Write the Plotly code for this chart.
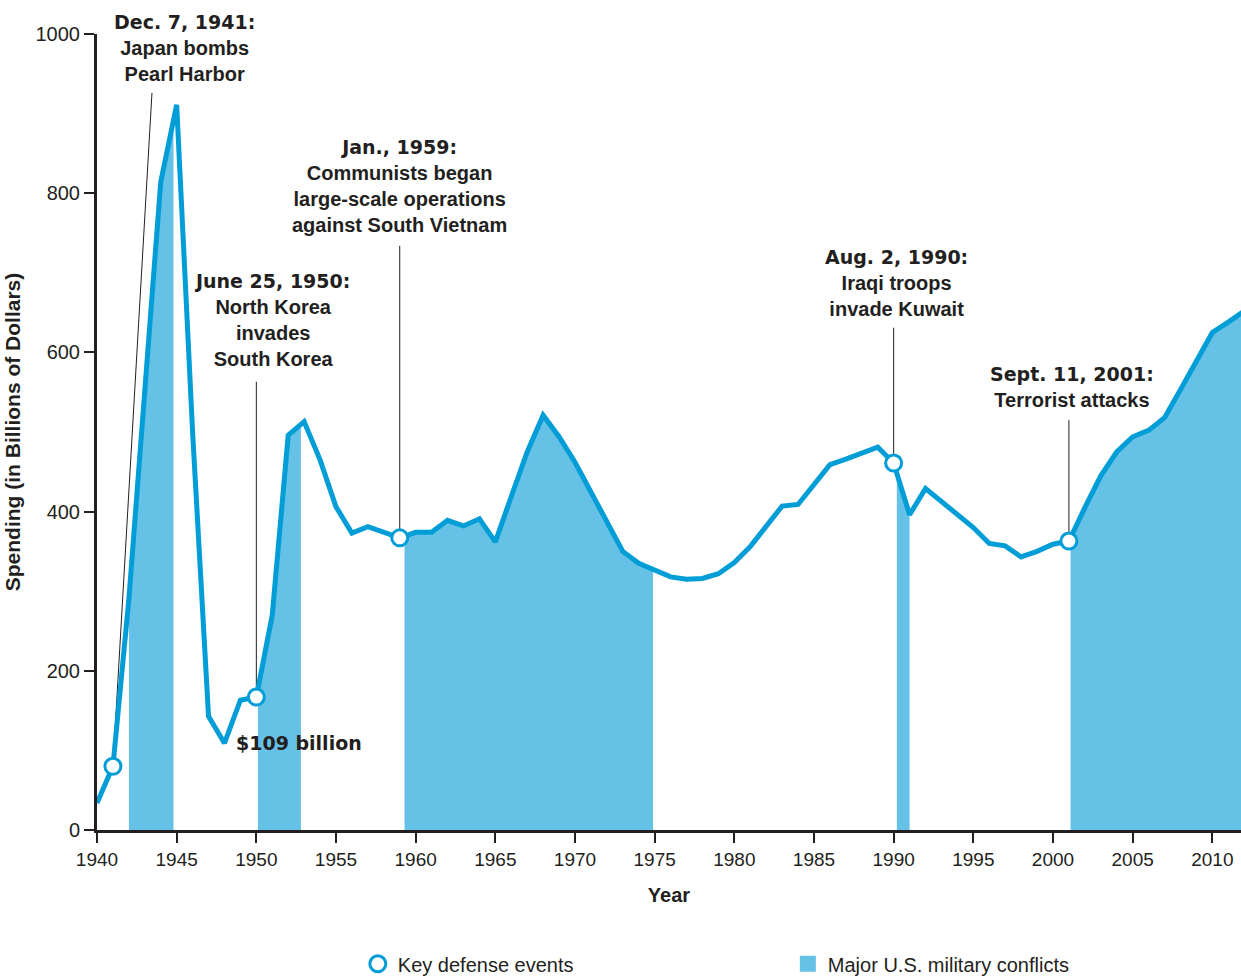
import numpy as np
import plotly.graph_objects as go

# U.S. defense spending, billions of dollars
years = [1940, 1941, 1942, 1943, 1944, 1945, 1946, 1947, 1948, 1949,
         1950, 1951, 1952, 1953, 1954, 1955, 1956, 1957, 1958, 1959,
         1960, 1961, 1962, 1963, 1964, 1965, 1966, 1967, 1968, 1969,
         1970, 1971, 1972, 1973, 1974, 1975, 1976, 1977, 1978, 1979,
         1980, 1981, 1982, 1983, 1984, 1985, 1986, 1987, 1988, 1989,
         1990, 1991, 1992, 1993, 1994, 1995, 1996, 1997, 1998, 1999,
         2000, 2001, 2002, 2003, 2004, 2005, 2006, 2007, 2008, 2009,
         2010, 2011, 2012]
spending = [34, 80, 290, 555, 814, 911, 500, 143, 109, 163,
            167, 270, 496, 513, 465, 406, 373, 381, 374, 367,
            374, 374, 389, 382, 391, 362, 419, 475, 521, 494,
            462, 425, 388, 350, 335, 327, 318, 315, 316, 322,
            336, 356, 382, 407, 409, 435, 459, 466, 473, 481,
            461, 396, 429, 412, 396, 380, 360, 357, 343, 350,
            359, 363, 405, 445, 475, 494, 502, 518, 553, 588,
            625, 638, 652]

# Key defense events
event_years = [1941, 1950, 1959, 1990, 2001]
event_titles = ["Dec. 7, 1941:", "June 25, 1950:", "Jan., 1959:",
                "Aug. 2, 1990:", "Sept. 11, 2001:"]
event_texts = [["Japan bombs", "Pearl Harbor"],
               ["North Korea", "invades", "South Korea"],
               ["Communists began", "large-scale operations", "against South Vietnam"],
               ["Iraqi troops", "invade Kuwait"],
               ["Terrorist attacks"]]
# label block placement (centre year, top value) and leader-line top (year, value)
label_pos = [(1945.5, 1031), (1951.0, 706), (1959.0, 875), (1990.2, 736), (2001.2, 589)]
leader_top = [(1943.45, 926), (1950, 563), (1959, 734), (1990, 631), (2001, 515)]

# Major U.S. military conflicts (start, end)
conflict_start = [1942.0, 1950.1, 1959.3, 1990.2, 2001.1]
conflict_end = [1944.8, 1952.8, 1974.9, 1991.0, 2012.0]

x_ticks = list(range(1940, 2011, 5))
y_ticks = list(range(0, 1001, 200))
Y_MAX = 1000

LINE = "#009dd6"
FILL = "#65c1e6"
INK = "#231f20"
BODY = "Liberation Sans, Arial, sans-serif"
HEAVY = "DejaVu Sans, Liberation Sans, sans-serif"

fig = go.Figure()

# shaded conflict periods under the spending curve
for s, e in zip(conflict_start, conflict_end):
    xs = [s] + [y for y in years if s < y < e] + [e]
    ys = np.interp(xs, years, spending)
    fig.add_trace(go.Scatter(
        x=xs, y=ys, mode="none", fill="tozeroy", fillcolor=FILL,
        legendgroup="conflicts", showlegend=False, hoverinfo="skip"))

fig.add_trace(go.Scatter(
    x=years, y=spending, mode="lines",
    line=dict(color=LINE, width=5), showlegend=False))

fig.add_trace(go.Scatter(
    x=event_years, y=np.interp(event_years, years, spending), mode="markers",
    marker=dict(symbol="circle", size=16, color="white",
                line=dict(color=LINE, width=3)),
    name="Key defense events", legendrank=1, cliponaxis=False))

# legend swatch for the shaded conflict periods
fig.add_trace(go.Scatter(
    x=[None], y=[None], mode="markers",
    marker=dict(symbol="square", size=18, color=FILL),
    name="Major U.S. military conflicts", legendgroup="conflicts", legendrank=2))

# leader lines and labels
for ey, (tx, ty), (lx, ly), title, body in zip(
        event_years, leader_top, label_pos, event_titles, event_texts):
    fig.add_shape(type="line", x0=tx, y0=ty, x1=ey,
                  y1=float(np.interp(ey, years, spending)),
                  line=dict(color=INK, width=1), layer="below")
    text = (f"<span style='font-family:{HEAVY};font-size:19px'><b>{title}</b></span><br>"
            + "<br>".join(f"<b>{t}</b>" for t in body))
    fig.add_annotation(x=lx, y=ly / Y_MAX, xref="x", yref="paper", text=text,
                       showarrow=False, xanchor="center", yanchor="top",
                       align="center", font=dict(family=BODY, size=20, color=INK))

fig.add_annotation(x=1948.6, y=spending[years.index(1948)], xref="x", yref="y",
                   text=f"<b>${spending[years.index(1948)]} billion</b>",
                   showarrow=False, xanchor="left", yanchor="middle",
                   font=dict(family=HEAVY, size=19, color=INK))

axis_common = dict(showline=True, linecolor=INK, linewidth=3, ticks="outside",
                   ticklen=10, tickwidth=2, tickcolor=INK, showgrid=False,
                   zeroline=False)

fig.update_layout(
    width=1241, height=977,
    margin=dict(l=97, r=0, t=34, b=147, autoexpand=False),
    paper_bgcolor="white", plot_bgcolor="white",
    xaxis=dict(range=[1940, 2011.8], tickvals=x_ticks, **axis_common,
               tickfont=dict(family=BODY, size=19, color=INK),
               title=dict(text="<b>Year</b>", standoff=20,
                          font=dict(family=BODY, size=20, color=INK))),
    yaxis=dict(range=[0, Y_MAX], tickvals=y_ticks, **axis_common,
               tickfont=dict(family=BODY, size=20, color=INK),
               title=dict(text="<b>Spending (in Billions of Dollars)</b>", standoff=10,
                          font=dict(family=BODY, size=21, color=INK))),
    legend=dict(orientation="h", x=0.228, y=-0.168, xanchor="left", yanchor="middle",
                entrywidth=385, entrywidthmode="pixels",
                font=dict(family=BODY, size=20, color=INK)),
)

fig.write_html("out.html")
